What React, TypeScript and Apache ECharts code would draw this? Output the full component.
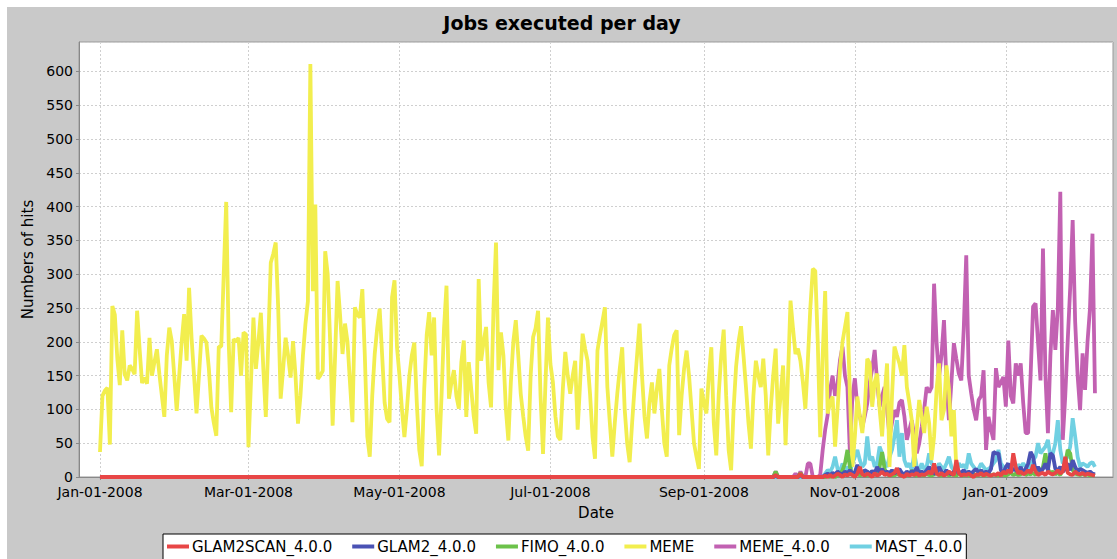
import React, { useEffect, useRef } from "react";
import * as echarts from "echarts";

const TITLE = "Jobs executed per day";
const X_NAME = "Date";
const Y_NAME = "Numbers of hits";
const SERIES_NAMES = ["GLAM2SCAN_4.0.0", "GLAM2_4.0.0", "FIMO_4.0.0", "MEME", "MEME_4.0.0", "MAST_4.0.0"];
const MONTHS = ["Jan", "Feb", "Mar", "Apr", "May", "Jun", "Jul", "Aug", "Sep", "Oct", "Nov", "Dec"];
const X_TICKS = ["2008-01-01", "2008-03-01", "2008-05-01", "2008-07-01", "2008-09-01", "2008-11-01", "2009-01-01"];

// daily counts
const MEME_START = "2008-01-01";
const MEME_VALUES = [
  37, 120, 128, 132, 48, 253, 240, 175, 136, 217,
  152, 143, 165, 160, 152, 246, 190, 139, 147, 138,
  206, 150, 170, 189, 152, 120, 89, 180, 221, 201,
  150, 98, 150, 200, 241, 172, 280, 206, 150, 94,
  150, 209, 205, 199, 160, 103, 80, 61, 193, 193,
  300, 407, 200, 96, 204, 200, 206, 150, 214, 211,
  44, 140, 236, 160, 200, 243, 160, 89, 200, 317,
  330, 347, 250, 116, 160, 206, 180, 147, 201, 150,
  79, 120, 180, 226, 260, 611, 275, 403, 145, 150,
  157, 334, 300, 200, 76, 180, 290, 240, 182, 227,
  200, 140, 81, 251, 240, 236, 278, 180, 60, 30,
  120, 182, 220, 249, 180, 110, 86, 81, 266, 291,
  192, 150, 100, 59, 100, 150, 180, 199, 110, 40,
  16, 130, 210, 244, 180, 236, 100, 32, 120, 220,
  283, 116, 140, 158, 120, 101, 170, 202, 89, 170,
  130, 90, 64, 293, 172, 200, 222, 140, 103, 250,
  347, 158, 214, 180, 100, 54, 140, 200, 232, 180,
  123, 90, 60, 39, 150, 207, 220, 246, 120, 34,
  140, 236, 167, 140, 90, 60, 55, 130, 185, 150,
  123, 150, 172, 70, 140, 212, 190, 172, 123, 60,
  27, 187, 210, 230, 251, 133, 80, 30, 80, 123,
  160, 192, 100, 50, 22, 80, 133, 180, 227, 150,
  90, 57, 110, 140, 94, 130, 160, 100, 50, 30,
  165, 190, 210, 217, 62, 120, 160, 187, 150, 100,
  50, 30, 12, 131, 110, 94, 150, 192, 80, 32,
  123, 180, 218, 120, 40, 10, 100, 163, 200, 223,
  180, 133, 80, 42, 120, 172, 150, 133, 175, 120,
  32, 100, 150, 190, 79, 120, 165, 47, 150, 261,
  220, 182, 190, 172, 140, 101, 172, 250, 308, 305,
  200, 59, 180, 275, 94, 110, 119, 45, 100, 160,
  200, 222, 244, 120, 15, 60, 119, 90, 65, 100,
  175, 168, 104, 140, 153, 100, 60, 120, 168, 15,
  120, 193, 180, 168, 150, 195, 133, 110, 84, 15,
  70, 114, 90, 65, 104, 80, 25, 60, 129, 168,
  84, 99, 165, 130, 60, 99, 10,
];

// the other tools: zero from the first day, then daily counts from ACTIVE_START
const ZERO_FROM = "2008-01-01";
const ACTIVE_START = "2008-09-27";
const GLAM2SCAN_VALUES = [
  0, 0, 0, 3, 0, 0, 0, 0, 0, 0,
  0, 0, 0, 5, 0, 0, 0, 0, 0, 0,
  0, 0, 0, 2, 0, 3, 0, 2, 5, 3,
  0, 4, 2, 5, 3, 0, 5, 15, 4, 2,
  5, 3, 0, 6, 2, 4, 8, 3, 5, 2,
  4, 6, 13, 3, 2, 0, 5, 2, 4, 3,
  6, 2, 4, 3, 5, 8, 4, 20, 5, 3,
  6, 2, 4, 8, 5, 3, 25, 6, 2, 4,
  3, 5, 2, 0, 4, 3, 6, 2, 5, 3,
  2, 4, 3, 6, 2, 8, 5, 10, 6, 35,
  15, 5, 8, 4, 6, 10, 6, 18, 8, 3,
  5, 6, 3, 8, 5, 4, 6, 10, 5, 8,
  30, 6, 4, 3, 8, 5, 4, 6, 3, 5,
  4, 3, 2,
];
const GLAM2_VALUES = [
  0, 0, 0, 2, 0, 0, 0, 0, 0, 0,
  0, 0, 0, 3, 0, 0, 0, 0, 0, 0,
  0, 0, 0, 3, 5, 3, 6, 4, 8, 5,
  4, 8, 6, 10, 5, 7, 18, 8, 6, 10,
  8, 5, 9, 6, 15, 7, 12, 5, 8, 6,
  10, 5, 8, 12, 6, 4, 8, 5, 9, 6,
  15, 5, 8, 6, 10, 15, 8, 5, 6, 15,
  8, 5, 10, 6, 4, 8, 12, 5, 7, 10,
  6, 8, 5, 9, 12, 6, 10, 5, 8, 6,
  12, 37, 35, 35, 10, 6, 15, 20, 8, 12,
  10, 8, 15, 6, 12, 20, 37, 30, 10, 15,
  8, 12, 20, 10, 35, 32, 12, 10, 15, 8,
  12, 20, 10, 25, 15, 8, 12, 10, 8, 6,
  8, 5, 4,
];
const FIMO_VALUES = [
  0, 0, 0, 8, 0, 0, 0, 0, 0, 0,
  0, 0, 0, 6, 0, 0, 0, 0, 0, 0,
  0, 0, 0, 0, 2, 0, 3, 0, 2, 4,
  10, 20, 40, 15, 3, 2, 5, 2, 4, 3,
  2, 5, 8, 3, 6, 15, 37, 12, 4, 2,
  3, 2, 5, 3, 4, 2, 3, 2, 10, 3,
  2, 4, 3, 2, 5, 3, 2, 4, 6, 3,
  2, 3, 5, 2, 4, 3, 2, 6, 3, 2,
  4, 2, 3, 5, 2, 3, 4, 2, 3, 5,
  2, 4, 3, 2, 5, 3, 2, 4, 6, 3,
  5, 3, 4, 8, 3, 5, 4, 6, 3, 10,
  8, 15, 35, 12, 5, 8, 4, 6, 3, 10,
  20, 40, 35, 10, 5, 4, 3, 5, 3, 4,
  2, 3, 2,
];
const MEME4_VALUES = [
  0, 0, 0, 8, 0, 0, 0, 0, 0, 0,
  0, 5, 0, 8, 0, 0, 20, 20, 0, 0,
  0, 3, 40, 70, 92, 129, 150, 120, 138, 173,
  193, 150, 133, 35, 120, 146, 104, 90, 74, 90,
  109, 140, 160, 188, 140, 104, 120, 133, 100, 60,
  80, 99, 89, 110, 114, 90, 55, 70, 84, 60,
  35, 50, 74, 100, 133, 125, 133, 286, 200, 148,
  180, 232, 143, 84, 140, 198, 175, 153, 143, 220,
  328, 150, 124, 100, 84, 114, 120, 158, 40, 89,
  70, 55, 161, 133, 140, 148, 104, 202, 120, 109,
  168, 150, 168, 110, 65, 65, 150, 252, 257, 200,
  143, 338, 150, 65, 180, 247, 188, 250, 422, 55,
  120, 202, 280, 380, 230, 150, 99, 183, 129, 200,
  250, 360, 124,
];
const MAST_VALUES = [
  0, 0, 0, 0, 0, 0, 0, 0, 0, 0,
  0, 0, 0, 0, 0, 0, 0, 0, 0, 0,
  0, 0, 0, 5, 10, 8, 15, 30, 12, 8,
  20, 10, 15, 8, 20, 30, 40, 25, 15, 20,
  60, 25, 30, 15, 20, 45, 35, 20, 15, 30,
  40, 60, 84, 30, 65, 25, 15, 20, 10, 35,
  15, 10, 20, 12, 15, 35, 20, 15, 10, 20,
  15, 12, 20, 30, 15, 10, 12, 20, 15, 18,
  12, 35, 20, 15, 10, 12, 20, 15, 10, 12,
  15, 20, 25, 40, 20, 15, 12, 10, 15, 20,
  12, 18, 15, 20, 15, 12, 18, 25, 30, 50,
  35, 40, 45, 55, 30, 35, 50, 84, 40, 20,
  25, 30, 45, 87, 60, 30, 15, 20, 18, 15,
  20, 22, 15,
];

const X_MIN = "2007-12-23T12:30:00Z";
const X_MAX = "2009-02-13T07:00:00Z";
const Y_MAX = 643.6;
const Y_STEP = 50;

const COLORS = ["#e84646", "#4a52b4", "#6cc24a", "#f2ee4e", "#c261b2", "#70d0e2"];

const DAY = 86400000;
const ts = (s: string) => Date.parse(s.length === 10 ? s + "T00:00:00Z" : s);

function daily(start: string, values: number[]) {
  const t0 = ts(start);
  return values.map((v, i) => [t0 + i * DAY, v]);
}
function withZeroRun(values: number[]) {
  return [[ts(ZERO_FROM), 0], ...daily(ACTIVE_START, values)];
}

const FONT = "DejaVu Sans";

export default function App() {
  const ref = useRef<HTMLDivElement>(null);
  useEffect(() => {
    if (!ref.current) return;
    const chart = echarts.init(ref.current, null, { renderer: "svg" });
    const seriesData = [
      withZeroRun(GLAM2SCAN_VALUES),
      withZeroRun(GLAM2_VALUES),
      withZeroRun(FIMO_VALUES),
      daily(MEME_START, MEME_VALUES),
      withZeroRun(MEME4_VALUES),
      withZeroRun(MAST_VALUES),
    ];
    const tickValues = X_TICKS.map(ts);
    const pad = (n: number) => (n < 10 ? "0" + n : "" + n);
    chart.setOption({
      animation: false,
      useUTC: true,
      backgroundColor: "#c9c9c9",
      textStyle: { fontFamily: FONT },
      title: {
        text: TITLE,
        left: "center",
        top: 6,
        padding: 0,
        textStyle: { fontFamily: FONT, fontSize: 19, fontWeight: "bold", color: "#000" },
      },
      legend: {
        data: SERIES_NAMES,
        left: 156,
        top: 527,
        icon: "rect",
        itemWidth: 22,
        itemHeight: 4,
        itemGap: 20,
        padding: [5, 4, 10, 4],
        backgroundColor: "#fff",
        borderColor: "#000",
        borderWidth: 1,
        borderRadius: 0,
        textStyle: { fontFamily: FONT, fontSize: 15, color: "#000", padding: [0, 0, 0, -2] },
      },
      grid: { left: 72, right: 4, top: 35, bottom: 82, show: true, backgroundColor: "#fff", borderColor: "#999", borderWidth: 1 },
      xAxis: {
        type: "value",
        min: ts(X_MIN),
        max: ts(X_MAX),
        name: X_NAME,
        nameLocation: "middle",
        nameGap: 28,
        nameTextStyle: { fontFamily: FONT, fontSize: 15, color: "#000" },
        axisLine: { show: true, lineStyle: { color: "#888", width: 1 } },
        axisTick: { show: true, length: 3, lineStyle: { color: "#888" }, customValues: tickValues },
        axisLabel: {
          fontFamily: FONT,
          fontSize: 14,
          color: "#000",
          margin: 8,
          customValues: tickValues,
          formatter: (v: number) => {
            const d = new Date(v);
            return `${MONTHS[d.getUTCMonth()]}-${pad(d.getUTCDate())}-${d.getUTCFullYear()}`;
          },
        },
        splitLine: { show: true, lineStyle: { color: "#cfcfcf", type: [2, 2], width: 1 } },
      },
      yAxis: {
        type: "value",
        min: 0,
        max: Y_MAX,
        interval: Y_STEP,
        name: Y_NAME,
        nameLocation: "middle",
        nameGap: 42,
        nameTextStyle: { fontFamily: FONT, fontSize: 15, color: "#000" },
        axisLine: { show: true, lineStyle: { color: "#888", width: 1 } },
        axisTick: { show: true, length: 3, lineStyle: { color: "#888" } },
        axisLabel: {
          fontFamily: FONT,
          fontSize: 14,
          color: "#000",
          margin: 6,
          showMaxLabel: false,
          formatter: (v: number) => (v % Y_STEP === 0 ? String(v) : ""),
        },
        splitLine: { show: true, lineStyle: { color: "#cfcfcf", type: [2, 2], width: 1 } },
      },
      series: SERIES_NAMES.map((name, i) => ({
        name,
        type: "line",
        data: seriesData[i],
        showSymbol: false,
        symbol: "none",
        z: 10 - i,
        color: COLORS[i],
        lineStyle: { color: COLORS[i], width: 3.8 },
        emphasis: { disabled: true },
      })),
    });
    return () => chart.dispose();
  }, []);
  return (
    <div
      ref={ref}
      style={{ position: "absolute", left: 7, top: 7, width: 1110, height: 552 }}
    />
  );
}
